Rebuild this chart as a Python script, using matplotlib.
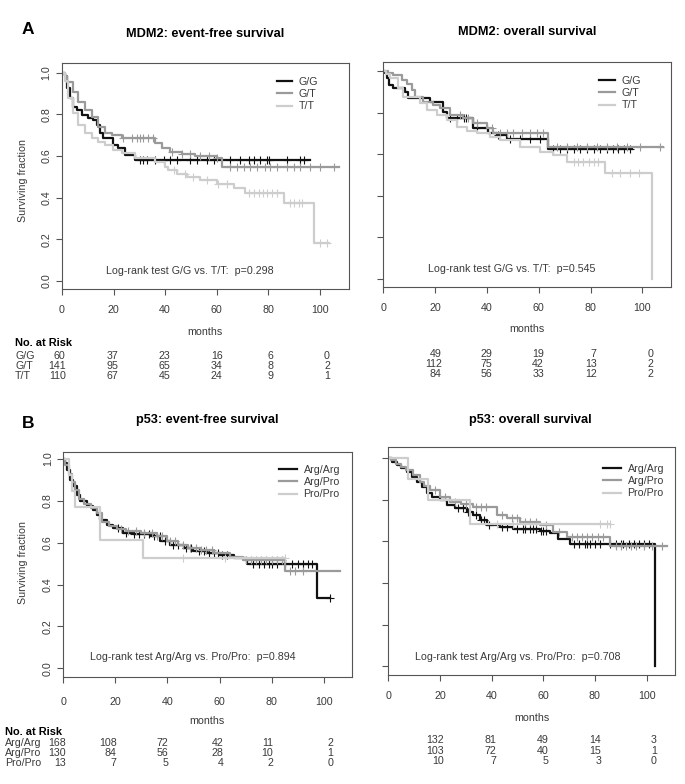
import matplotlib
matplotlib.use("Agg")
import matplotlib.pyplot as plt
import numpy as np

plt.rcParams["font.family"] = ["Liberation Sans", "DejaVu Sans"]

# ---- data ----
months_ticks = [0, 20, 40, 60, 80, 100]
surv_ticks = [0.0, 0.2, 0.4, 0.6, 0.8, 1.0]

mdm2_groups = ["G/G", "G/T", "T/T"]
p53_groups = ["Arg/Arg", "Arg/Pro", "Pro/Pro"]

# MDM2 event-free survival
gg_efs_t = [0, 1.0, 1.8, 3.1, 4.4, 5.7, 7.6, 10.2, 12.2, 13.5, 14.8, 16.0, 19.9, 21.9, 24.5, 28.4]
gg_efs_s = [1.0, 0.985, 0.925, 0.877, 0.837, 0.821, 0.797, 0.784, 0.773, 0.749, 0.709, 0.685, 0.653, 0.637, 0.605, 0.581]
gg_efs_end = 96.4
gg_efs_cens = [30.3, 31.6, 32.9, 36.1, 39.4, 42, 44.6, 49.7, 52.3, 56.2, 58.8, 65.3, 69.2, 72.4,
               74.4, 77, 79.5, 80.2, 87.3, 92.5, 93.8]

gt_efs_t = [0, 1.0, 2.1, 4.4, 6.3, 8.9, 11.5, 14.1, 16.7, 19.3, 23.2, 36.2, 38.7, 42, 46.5, 51.7, 60, 62]
gt_efs_s = [1.0, 0.985, 0.957, 0.909, 0.861, 0.821, 0.789, 0.741, 0.709, 0.70, 0.685, 0.661, 0.637,
            0.621, 0.61, 0.60, 0.589, 0.549]
gt_efs_end = 107.5
gt_efs_cens = [23.8, 27.1, 29, 30.3, 31.6, 33.5, 35.5, 42.6, 46.5, 49.7, 53.6, 56.9, 60.1, 65.3, 67.9,
               70.5, 73.1, 75.6, 78.9, 80.8, 83.4, 87.3, 89.9, 92.5, 96.4, 100.3, 105.4]

tt_efs_t = [0, 1.0, 2.5, 4.4, 6.3, 8.9, 11.5, 14.1, 16.7, 19.9, 23.2, 28.4, 36.1, 40, 41, 44.6, 48.4,
            53.6, 60, 66.6, 71.1, 86, 97.7]
tt_efs_s = [1.0, 0.96, 0.877, 0.805, 0.749, 0.709, 0.685, 0.669, 0.653, 0.629, 0.613, 0.589, 0.573,
            0.549, 0.533, 0.514, 0.50, 0.485, 0.466, 0.445, 0.42, 0.373, 0.184]
tt_efs_end = 103.5
tt_efs_cens = [43.3, 47.8, 51, 56.2, 60.7, 64, 72.4, 74.4, 76.3, 78.2, 79.5, 81.5, 83.4, 88.6, 89.9,
               91.8, 93.1, 100.3, 102.8]

# MDM2 overall survival
gg_os_t = [0, 0.5, 1.3, 2.3, 3.9, 8.4, 9.7, 18, 23.2, 24.5, 34.7, 40.5, 43.8, 47.6, 63.7]
gg_os_s = [1.0, 0.99, 0.965, 0.933, 0.917, 0.90, 0.868, 0.852, 0.804, 0.772, 0.724, 0.703, 0.692, 0.671, 0.624]
gg_os_end = 95.9
gg_os_cens = [25.7, 28.3, 31, 32, 36, 40, 44.4, 48.9, 52.8, 56.6, 60.5, 65.6, 68.2, 70.8, 73.4, 75.9,
              78.5, 81.1, 83.7, 86.2, 88.8, 90.7, 92.7, 95.2]

gt_os_t = [0, 2.0, 3.9, 7.1, 9, 10.9, 12.2, 15.4, 19.3, 21.9, 25.7, 30.9, 34.7, 39.9, 42.5, 63.5]
gt_os_s = [1.0, 0.99, 0.98, 0.957, 0.94, 0.908, 0.876, 0.852, 0.836, 0.82, 0.788, 0.772, 0.751, 0.724,
           0.703, 0.636]
gt_os_end = 108
gt_os_cens = [29.6, 32.8, 36, 41.8, 45, 47.6, 50.2, 53.4, 56.6, 59.2, 61.8, 66.9, 70.8, 74.6, 78.5,
              82.4, 86.2, 90.1, 94, 99.1, 106.8]

tt_os_t = [0, 1.2, 2.6, 5.8, 7.7, 14.2, 16.7, 20.6, 24.5, 28.3, 32.2, 36, 41.2, 45, 52.8, 60.5, 65.6,
           70.8, 85.6, 103.6]
tt_os_s = [1.0, 0.985, 0.965, 0.917, 0.876, 0.844, 0.812, 0.788, 0.764, 0.732, 0.713, 0.70, 0.681,
           0.668, 0.636, 0.612, 0.596, 0.563, 0.507, 0.0]
tt_os_end = 103.6
tt_os_cens = [73.4, 75.3, 77.2, 79.2, 81.1, 83, 88.2, 91.4, 95.2, 98.5]

# p53 event-free survival
aa_efs_t = [0, 0.6, 1.3, 2.6, 3.8, 5.1, 6.4, 9, 11.5, 12.8, 14.1, 16.7, 19.2, 23.1, 26.9, 33.3, 37.2,
            41, 46.2, 50, 55.1, 60.3, 65.4, 70.5, 97.4]
aa_efs_s = [1.0, 0.98, 0.949, 0.901, 0.869, 0.829, 0.797, 0.774, 0.758, 0.734, 0.71, 0.686, 0.67, 0.646,
            0.641, 0.63, 0.606, 0.59, 0.574, 0.558, 0.55, 0.542, 0.526, 0.50, 0.335]
aa_efs_end = 102.6
aa_efs_cens = [21, 24, 27, 29, 31, 33, 35, 37, 39, 42, 44, 47, 49, 52, 54, 56, 58, 59.5, 61, 63, 73,
               75, 77, 79, 80, 82, 85, 88, 90, 92, 94, 95.5, 102.6]

ap_efs_t = [0, 0.8, 2.0, 3.2, 4.5, 6, 8, 10.5, 13, 15, 17.5, 20.5, 24, 30, 36, 40, 44, 48, 53, 58, 64,
            69, 85.3]
ap_efs_s = [1.0, 0.97, 0.93, 0.89, 0.85, 0.81, 0.785, 0.765, 0.74, 0.70, 0.68, 0.665, 0.655, 0.645,
            0.63, 0.61, 0.59, 0.575, 0.565, 0.55, 0.53, 0.515, 0.463]
ap_efs_end = 106.4
ap_efs_cens = [22, 25, 28, 31, 34, 36, 38, 41, 43, 46, 48.5, 51, 53, 55, 57, 70, 72, 74, 76, 78, 80,
               82, 84, 87, 89, 92]

pp_efs_t = [0, 2.0, 3.2, 4.5, 14.1, 30.8]
pp_efs_s = [1.0, 0.923, 0.846, 0.769, 0.615, 0.527]
pp_efs_end = 85
pp_efs_cens = [45.9, 62, 85]

# p53 overall survival
aa_os_t = [0, 1.5, 3.2, 5, 7.1, 9, 11, 13, 14.8, 16.8, 20, 22.6, 25.8, 30.3, 32.9, 35.5, 38.1, 43.2,
           48.4, 58.7, 62.6, 65.8, 70.3, 103.2]
aa_os_s = [1.0, 0.984, 0.968, 0.952, 0.936, 0.912, 0.888, 0.86, 0.831, 0.815, 0.80, 0.775, 0.759, 0.743,
           0.727, 0.703, 0.679, 0.671, 0.658, 0.652, 0.639, 0.61, 0.587, 0.0]
aa_os_end = 103.2
aa_os_cens = [27, 29, 31, 34, 36, 37, 39, 44, 46, 50, 52, 53, 55, 56, 57, 59, 60, 61, 72, 74, 76, 77,
              78, 80, 82, 86, 88, 90, 91, 93, 95, 97, 99, 101]

ap_os_t = [0, 1, 3, 5, 7, 9.5, 12.3, 14, 16.1, 20, 23.9, 28, 32.9, 41.9, 45.8, 51, 58.7, 63.9, 69, 85.8]
ap_os_s = [1.0, 0.99, 0.975, 0.96, 0.944, 0.92, 0.888, 0.865, 0.847, 0.815, 0.791, 0.78, 0.767, 0.727,
           0.711, 0.695, 0.679, 0.647, 0.623, 0.578]
ap_os_end = 108
ap_os_cens = [18, 22, 26, 30, 34, 36, 38, 44, 48, 50, 53, 55, 57, 61, 66, 71, 73, 75, 77, 79, 81, 83,
              88, 90, 92, 94, 96, 99, 102, 106]

pp_os_t = [0, 7.7, 15.5, 31.6]
pp_os_s = [1.0, 0.9, 0.8, 0.686]
pp_os_end = 86
pp_os_cens = [42, 48.4, 81.9, 84.5, 86]

# numbers at risk
mdm2_efs_risk = [[60, 37, 23, 16, 6, 0], [141, 95, 65, 34, 8, 2], [110, 67, 45, 24, 9, 1]]
mdm2_os_risk = [[49, 29, 19, 7, 0], [112, 75, 42, 13, 2], [84, 56, 33, 12, 2]]
p53_efs_risk = [[168, 108, 72, 42, 11, 2], [130, 84, 56, 28, 10, 1], [13, 7, 5, 4, 2, 0]]
p53_os_risk = [[132, 81, 49, 14, 3], [103, 72, 40, 15, 1], [10, 7, 5, 3, 0]]

colors = ["#111111", "#9a9a9a", "#cdcdcd"]
txt = "#3a3a3a"
axc = "#555555"
fs = 7.7

W, H = 685, 784
fig = plt.figure(figsize=(W / 100, H / 100), dpi=100)


def fx(x):
    return x / W


def fy(y):
    return 1 - y / H


def panel(box, ylim, xmax, ylabels, xpad):
    left, top, right, bottom = box
    ax = fig.add_axes([fx(left), fy(bottom), (right - left) / W, (bottom - top) / H])
    ax.set_xlim(0, xmax)
    ax.set_ylim(*ylim)
    ax.set_xticks(months_ticks)
    ax.set_xticklabels([str(m) for m in months_ticks])
    ax.set_yticks(surv_ticks)
    if ylabels:
        ax.set_yticklabels([f"{v:.1f}" for v in surv_ticks])
    else:
        ax.set_yticklabels([])
    ax.tick_params(axis="x", length=4.5, width=0.8, color=axc, labelsize=fs, labelcolor=txt, pad=xpad)
    ax.tick_params(axis="y", length=4, width=0.8, color=axc, labelsize=fs, labelcolor=txt, pad=3.5)
    for lab in ax.get_yticklabels():
        lab.set_rotation(90)
        lab.set_va("center")
    for sp in ax.spines.values():
        sp.set_color(axc)
        sp.set_linewidth(0.8)
    return ax


def km(ax, t, s, t_end, cens, color, label):
    tt = list(t) + [t_end]
    ss = list(s) + [s[-1]]
    ax.step(tt, ss, where="post", color=color, lw=1.6, label=label)
    cy = [s[np.searchsorted(t, c, side="right") - 1] for c in cens]
    ax.plot(cens, cy, "+", ms=5.5, mew=0.8, color=color, ls="none")


def legend(ax, x0, y0, hl):
    ax.legend(loc="upper left", bbox_to_anchor=(x0, y0), frameon=False, fontsize=fs,
              handlelength=hl, handletextpad=0.6, labelspacing=0.2, borderpad=0,
              borderaxespad=0, labelcolor=txt)


def risk_table(rows, labels, xs, ys, label_x, head_y):
    if label_x is not None:
        fig.text(fx(label_x), fy(head_y), "No. at Risk", fontsize=7.9, fontweight="bold",
                 ha="left", va="center")
    for i, row in enumerate(rows):
        if label_x is not None:
            fig.text(fx(label_x), fy(ys[i]), labels[i], fontsize=fs, color=txt, ha="left", va="center")
        for x, n in zip(xs, row):
            fig.text(fx(x), fy(ys[i]), str(n), fontsize=fs, color=txt, ha="right", va="center")


# ---- A: MDM2 ----
ax1 = panel((62, 63.3, 349.3, 289.3), (-0.04, 1.045), 111.5, True, 7)
km(ax1, gg_efs_t, gg_efs_s, gg_efs_end, gg_efs_cens, colors[0], mdm2_groups[0])
km(ax1, gt_efs_t, gt_efs_s, gt_efs_end, gt_efs_cens, colors[1], mdm2_groups[1])
km(ax1, tt_efs_t, tt_efs_s, tt_efs_end, tt_efs_cens, colors[2], mdm2_groups[2])
legend(ax1, (277 - 62) / 287.3, 1 - (77 - 63.3) / 226, 1.4)

ax2 = panel((383.3, 61.7, 671, 287), (-0.04, 1.045), 111, False, 7)
km(ax2, gg_os_t, gg_os_s, gg_os_end, gg_os_cens, colors[0], mdm2_groups[0])
km(ax2, gt_os_t, gt_os_s, gt_os_end, gt_os_cens, colors[1], mdm2_groups[1])
km(ax2, tt_os_t, tt_os_s, tt_os_end, tt_os_cens, colors[2], mdm2_groups[2])
legend(ax2, (599 - 383.3) / 287.7, 1 - (76 - 61.7) / 225.3, 1.5)

fig.text(fx(28), fy(30), "A", fontsize=12.5, fontweight="bold", ha="center", va="center")
fig.text(fx(205), fy(34), "MDM2: event-free survival", fontsize=9.2, fontweight="bold", ha="center", va="center")
fig.text(fx(527), fy(32), "MDM2: overall survival", fontsize=9.2, fontweight="bold", ha="center", va="center")
fig.text(fx(23), fy(180), "Surviving fraction", fontsize=fs, color=txt, rotation=90, ha="center", va="center")
fig.text(fx(190), fy(271), "Log-rank test G/G vs. T/T:  p=0.298", fontsize=fs, color=txt, ha="center", va="center")
fig.text(fx(512), fy(269), "Log-rank test G/G vs. T/T:  p=0.545", fontsize=fs, color=txt, ha="center", va="center")
fig.text(fx(205), fy(332), "months", fontsize=fs, color=txt, ha="center", va="center")
fig.text(fx(527), fy(329), "months", fontsize=fs, color=txt, ha="center", va="center")
risk_table(mdm2_efs_risk, mdm2_groups, [65.7, 118, 170.7, 222.7, 273, 330], [356, 366, 376], 15, 343)
risk_table(mdm2_os_risk, mdm2_groups, [441.7, 492.3, 544, 596.7, 653.3], [354, 364, 374], None, None)

# ---- B: p53 ----
ax3 = panel((63.3, 452, 352.3, 677.3), (-0.043, 1.033), 111, True, 10)
km(ax3, aa_efs_t, aa_efs_s, aa_efs_end, aa_efs_cens, colors[0], p53_groups[0])
km(ax3, ap_efs_t, ap_efs_s, ap_efs_end, ap_efs_cens, colors[1], p53_groups[1])
km(ax3, pp_efs_t, pp_efs_s, pp_efs_end, pp_efs_cens, colors[2], p53_groups[2])
legend(ax3, (279 - 63.3) / 289, 1 - (465 - 452) / 225.3, 1.7)

ax4 = panel((388.3, 446.7, 675, 675), (-0.043, 1.056), 111, False, 7)
km(ax4, aa_os_t, aa_os_s, aa_os_end, aa_os_cens, colors[0], p53_groups[0])
km(ax4, ap_os_t, ap_os_s, ap_os_end, ap_os_cens, colors[1], p53_groups[1])
km(ax4, pp_os_t, pp_os_s, pp_os_end, pp_os_cens, colors[2], p53_groups[2])
legend(ax4, (603 - 388.3) / 286.7, 1 - (464 - 446.7) / 228.3, 1.7)

fig.text(fx(28), fy(423), "B", fontsize=12.5, fontweight="bold", ha="center", va="center")
fig.text(fx(207), fy(420), "p53: event-free survival", fontsize=9.2, fontweight="bold", ha="center", va="center")
fig.text(fx(530), fy(420), "p53: overall survival", fontsize=9.2, fontweight="bold", ha="center", va="center")
fig.text(fx(23), fy(563), "Surviving fraction", fontsize=fs, color=txt, rotation=90, ha="center", va="center")
fig.text(fx(192.5), fy(657), "Log-rank test Arg/Arg vs. Pro/Pro:  p=0.894", fontsize=fs, color=txt,
         ha="center", va="center")
fig.text(fx(517.5), fy(657), "Log-rank test Arg/Arg vs. Pro/Pro:  p=0.708", fontsize=fs, color=txt,
         ha="center", va="center")
fig.text(fx(207), fy(721), "months", fontsize=fs, color=txt, ha="center", va="center")
fig.text(fx(532), fy(718), "months", fontsize=fs, color=txt, ha="center", va="center")
risk_table(p53_efs_risk, p53_groups, [65.7, 116.7, 168.3, 223.3, 273.3, 333.3], [743.3, 753.3, 763.3], 5, 732)
risk_table(p53_os_risk, p53_groups, [444.3, 496, 548.3, 601, 656.7], [740, 750.5, 761], None, None)

fig.savefig("out.png", dpi=100)
